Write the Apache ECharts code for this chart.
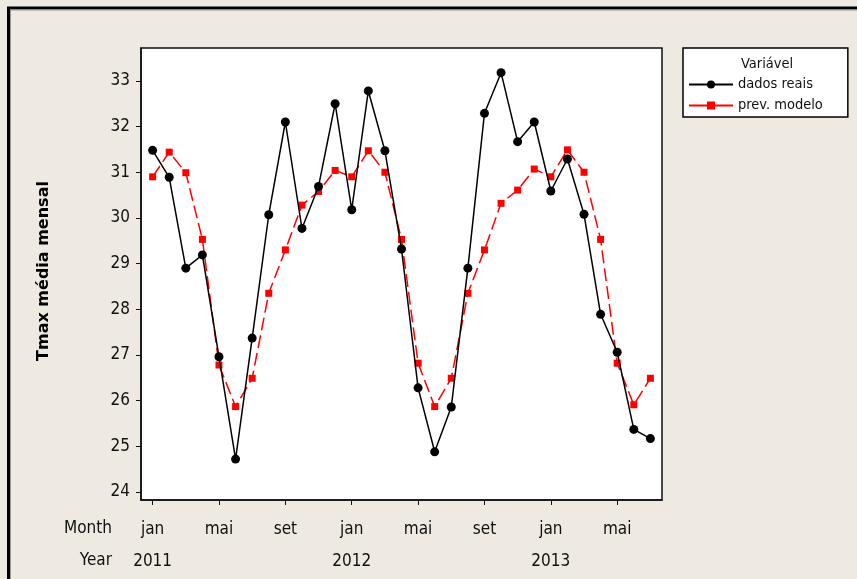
<!DOCTYPE html>
<html><head><meta charset="utf-8">
<script src="https://cdn.jsdelivr.net/npm/echarts@6/dist/echarts.min.js"></script>
<style>html,body{margin:0;padding:0;background:#EEEAE1;}#c{width:857px;height:579px;}</style>
</head><body><div id="c"></div>
<script>
// Data (Jan 2011 .. Jul 2013, monthly)
const dadosReais = [31.48,30.89,28.90,29.19,26.96,24.72,27.37,30.07,32.10,29.77,30.69,32.50,30.18,32.78,31.47,29.32,26.28,24.88,25.86,28.90,32.29,33.18,31.67,32.10,30.59,31.29,30.08,27.89,27.06,25.37,25.17];
const prevModelo = [30.90,31.44,30.99,29.53,26.78,25.87,26.49,28.35,29.30,30.28,30.58,31.04,30.90,31.47,31.00,29.53,26.82,25.87,26.49,28.35,29.30,30.32,30.61,31.07,30.90,31.49,31.00,29.53,26.82,25.91,26.49];
const monthTickIdx = [0,4,8,12,16,20,24,28];
const monthTickLabels = ['jan','mai','set','jan','mai','set','jan','mai'];
const yearTickLabels = ['2011','','','2012','','','2013',''];
const yTicks = [24,25,26,27,28,29,30,31,32,33];
const seriesNames = ['dados reais','prev. modelo'];

const FONT = 'DejaVu Sans Condensed, DejaVu Sans, sans-serif';
const chart = echarts.init(document.getElementById('c'), null, {renderer:'canvas'});
chart.setOption({
  animation:false,
  backgroundColor:'#EEEAE1',
  grid:{left:141, top:48, width:521, height:452, show:true, backgroundColor:'#fff', borderColor:'#111', borderWidth:1.5},
  xAxis:{
    type:'value', min:-0.7, max:30.7,
    axisLine:{show:true, onZero:false, lineStyle:{color:'#111', width:1.5}},
    axisTick:{show:true, length:5, customValues:monthTickIdx, lineStyle:{color:'#111', width:1}},
    splitLine:{show:false},
    axisLabel:{
      customValues:monthTickIdx, margin:14, color:'#111', fontFamily:FONT, fontSize:17, lineHeight:32,
      formatter:function(v){const k=monthTickIdx.indexOf(Math.round(v)); if(k<0) return ''; return yearTickLabels[k]? monthTickLabels[k]+'\n'+yearTickLabels[k] : monthTickLabels[k];}
    }
  },
  yAxis:{
    type:'value', min:23.825, max:33.72,
    axisLine:{show:true, onZero:false, lineStyle:{color:'#111', width:1.5}},
    axisTick:{show:true, length:5, customValues:yTicks, lineStyle:{color:'#111', width:1}},
    splitLine:{show:false},
    axisLabel:{customValues:yTicks, margin:11, color:'#111', fontFamily:FONT, fontSize:17}
  },
  legend:{
    orient:'vertical', left:683, top:48, z:5,
    backgroundColor:'#fff', borderColor:'#000', borderWidth:1.5, borderRadius:0,
    padding:[29,25,4,5], itemWidth:44, itemHeight:10, itemGap:6,
    textStyle:{fontFamily:FONT, fontSize:14.5, color:'#111'},
    data:[{name:seriesNames[0]},{name:seriesNames[1], lineStyle:{type:'solid'}}]
  },
  graphic:[
    {type:'rect', silent:true, z:-1, shape:{x:8.5, y:8, width:900, height:620}, style:{fill:'none', stroke:'#000', lineWidth:3}},
    {type:'rect', silent:true, z:-1, shape:{x:10.5, y:10, width:900, height:620}, style:{fill:'none', stroke:'#9a9a9a', lineWidth:1}},
    {type:'text', z:100, x:741, y:64, style:{text:'Variável', font:'14.5px '+FONT, fill:'#111', textVerticalAlign:'middle'}},
    {type:'text', x:112, y:529, style:{text:'Month', font:'17px '+FONT, fill:'#111', textAlign:'right', textVerticalAlign:'middle'}},
    {type:'text', x:112, y:561, style:{text:'Year', font:'17px '+FONT, fill:'#111', textAlign:'right', textVerticalAlign:'middle'}},
    {type:'text', x:44, y:271, rotation:Math.PI/2, style:{text:'Tmax média mensal', font:'bold 16px DejaVu Sans, sans-serif', fill:'#000', textAlign:'center', textVerticalAlign:'middle'}}
  ],
  series:[
    {name:seriesNames[0], type:'line', data:dadosReais.map((v,i)=>[i,v]), symbol:'circle', symbolSize:9,
     lineStyle:{color:'#000', width:1.5}, itemStyle:{color:'#000'}, z:3},
    {name:seriesNames[1], type:'line', data:prevModelo.map((v,i)=>[i,v]), symbol:'rect', symbolSize:7,
     lineStyle:{color:'#ff0000', width:1.5, type:[13,5]}, itemStyle:{color:'#ff0000'}, z:2}
  ]
});
</script></body></html>
